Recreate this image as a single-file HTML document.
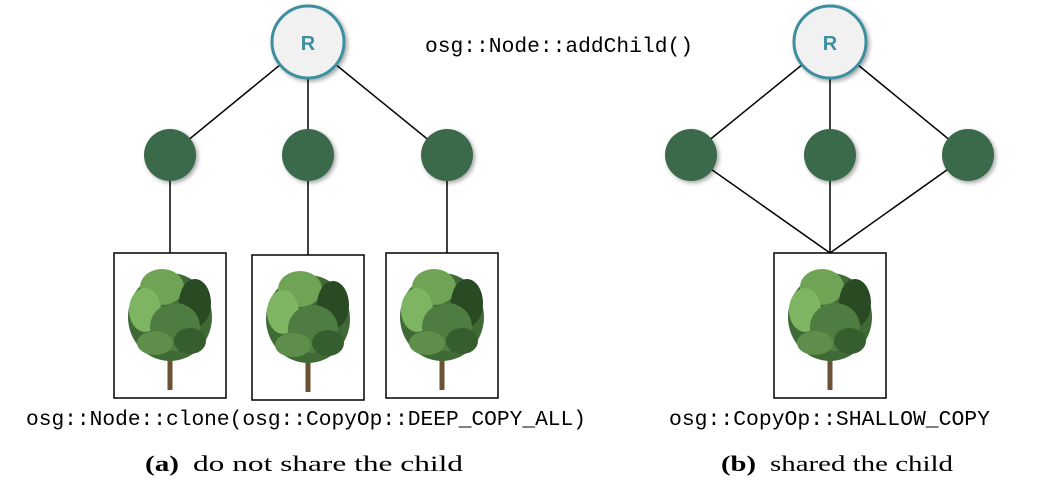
<!DOCTYPE html>
<html><head><meta charset="utf-8"><style>
body{margin:0;background:#fff;width:1041px;height:493px;overflow:hidden}
</style></head><body>
<svg width="1041" height="493" viewBox="0 0 1041 493" xmlns="http://www.w3.org/2000/svg">
<defs>
<filter id="sh" x="-30%" y="-30%" width="160%" height="160%"><feDropShadow dx="2" dy="2" stdDeviation="2" flood-color="#000" flood-opacity="0.35"/></filter>
<g id="tree">
<rect x="-2.5" y="60" width="5" height="35" fill="#6b5235"/>
<ellipse cx="0" cy="22" rx="42" ry="44" fill="#3f6a35"/>
<ellipse cx="-8" cy="-8" rx="22" ry="18" fill="#6fa356"/>
<ellipse cx="-25" cy="15" rx="16" ry="22" fill="#7db563"/>
<ellipse cx="25" cy="8" rx="16" ry="24" fill="#2a4a24"/>
<ellipse cx="5" cy="32" rx="25" ry="24" fill="#4f7c40"/>
<ellipse cx="-15" cy="48" rx="18" ry="12" fill="#5e8e4a"/>
<ellipse cx="20" cy="46" rx="16" ry="13" fill="#365d2e"/>
</g>
</defs>
<g stroke="#000" stroke-width="1.5" fill="none">
<line x1="308" y1="42" x2="170" y2="155"/><line x1="308" y1="42" x2="308" y2="155"/><line x1="308" y1="42" x2="447" y2="155"/>
<line x1="170" y1="155" x2="170" y2="253"/><line x1="308" y1="155" x2="308" y2="255"/><line x1="447" y1="155" x2="447" y2="253"/>
<line x1="830" y1="42" x2="691" y2="155"/><line x1="830" y1="42" x2="830" y2="155"/><line x1="830" y1="42" x2="968" y2="155"/>
<line x1="691" y1="155" x2="830" y2="253"/><line x1="830" y1="155" x2="830" y2="253"/><line x1="968" y1="155" x2="830" y2="253"/>
<rect x="114" y="253" width="112" height="145"/><rect x="252" y="255" width="112" height="145"/><rect x="386" y="253" width="112" height="145"/><rect x="774" y="253" width="112" height="145"/>
</g>
<use href="#tree" x="170" y="295"/><use href="#tree" x="308" y="297"/><use href="#tree" x="442" y="295"/><use href="#tree" x="830" y="295"/>
<g filter="url(#sh)">
<circle cx="308" cy="42" r="36" fill="#f1f1f1" stroke="#3c8fa0" stroke-width="3"/>
<circle cx="830" cy="42" r="36" fill="#f1f1f1" stroke="#3c8fa0" stroke-width="3"/>
<g fill="#3a6b4c"><circle cx="170" cy="155" r="26"/><circle cx="308" cy="155" r="26"/><circle cx="447" cy="155" r="26"/>
<circle cx="691" cy="155" r="26"/><circle cx="830" cy="155" r="26"/><circle cx="968" cy="155" r="26"/></g>
</g>
<g font-family="Liberation Sans, sans-serif" font-weight="bold" font-size="20" fill="#3c8fa0" text-anchor="middle">
<text x="308" y="50">R</text><text x="830" y="50">R</text></g>
<g font-family="Liberation Mono, monospace" font-size="21" fill="#000">
<text x="425" y="52" textLength="268" lengthAdjust="spacingAndGlyphs">osg::Node::addChild()</text>
<text x="26" y="425" textLength="560" lengthAdjust="spacingAndGlyphs">osg::Node::clone(osg::CopyOp::DEEP_COPY_ALL)</text>
<text x="669" y="425" textLength="321" lengthAdjust="spacingAndGlyphs">osg::CopyOp::SHALLOW_COPY</text>
</g>
<g font-family="Liberation Serif, serif" font-size="22" fill="#000">
<text x="145" y="471" font-weight="bold" textLength="34" lengthAdjust="spacingAndGlyphs">(a)</text>
<text x="193" y="471" textLength="270" lengthAdjust="spacingAndGlyphs">do not share the child</text>
<text x="721" y="471" font-weight="bold" textLength="35" lengthAdjust="spacingAndGlyphs">(b)</text>
<text x="770" y="471" textLength="183" lengthAdjust="spacingAndGlyphs">shared the child</text>
</g>
</svg>
</body></html>
